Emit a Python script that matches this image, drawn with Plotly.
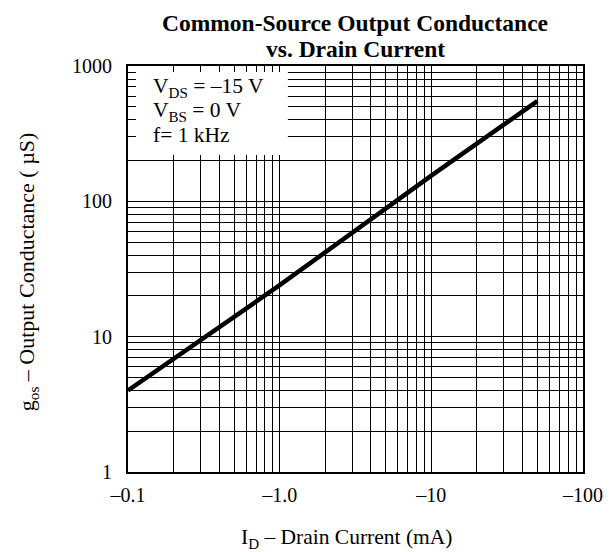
import plotly.graph_objects as go

# Data (drain current magnitude in mA, output conductance in µS)
drain_current_ma = [0.1, 1.0, 10.0, 50.0]
g_os_us = [4.0, 24.0, 155.0, 550.0]

x_major = [0.1, 1.0, 10.0, 100.0]
x_major_labels = ["\u20130.1", "\u20131.0", "\u201310", "\u2013100"]
y_major = [1, 10, 100, 1000]
y_major_labels = ["1", "10", "100", "1000"]

title_lines = ["Common-Source Output Conductance", "vs. Drain Current"]
legend_lines = ["V<sub>DS</sub> = \u201315 V", "V<sub>BS</sub> = 0 V", "f= 1 kHz"]
x_title = "I<sub>D</sub> \u2013 Drain Current (mA)"
y_title = "g<sub>os</sub> \u2013 Output Conductance ( \u00b5S)"

FONT = "Liberation Serif"


def minor_vals(majors):
    return [m * d for m in majors[:-1] for d in range(2, 10)]


# page has an 8px body margin: size the figure to fit the window
OFF = 8
W, H = 615 - OFF, 552 - OFF
L, R, T, B = 120, 26, 58, 80
pw, ph = W - L - R, H - T - B


def px(x):  # page pixel -> paper x
    return (x - OFF - L) / pw


def py(y):  # page pixel -> paper y
    return (H - B - (y - OFF)) / ph


fig = go.Figure()
fig.add_trace(go.Scatter(
    x=drain_current_ma, y=g_os_us, mode="lines",
    line=dict(color="black", width=4.5), showlegend=False,
))

axis_common = dict(
    type="log", showgrid=True, gridcolor="black", gridwidth=1.2,
    showline=True, linecolor="black", linewidth=2, mirror=True,
    ticks="", tickfont=dict(family=FONT, size=20, color="black"),
    zeroline=False, tickmode="array",
)

fig.update_layout(
    width=W, height=H,
    margin=dict(l=L, r=R, t=T, b=B),
    paper_bgcolor="white", plot_bgcolor="white",
    font=dict(family=FONT, color="black"),
    xaxis=dict(range=[-1, 2], tickvals=x_major, ticktext=x_major_labels,
               ticklabelstandoff=4,
               minor=dict(tickmode="array", tickvals=minor_vals(x_major), showgrid=True,
                          gridcolor="black", gridwidth=1.2, ticks=""),
               **axis_common),
    yaxis=dict(range=[0, 3], tickvals=y_major, ticktext=y_major_labels,
               ticklabelstandoff=10,
               minor=dict(tickmode="array", tickvals=minor_vals(y_major), showgrid=True,
                          gridcolor="black", gridwidth=1.2, ticks=""),
               **axis_common),
)

# title lines
for i, txt in enumerate(title_lines):
    fig.add_annotation(text="<b>%s</b>" % txt, xref="paper", yref="paper",
                       x=px(358), y=py(23 + 26 * i), xanchor="center", yanchor="middle",
                       showarrow=False, font=dict(family=FONT, size=23.5, color="black"))

# legend box covering the grid
fig.add_shape(type="rect", xref="paper", yref="paper",
              x0=px(136), x1=px(290), y0=py(155), y1=py(72),
              fillcolor="white", line=dict(width=0), layer="above")

for i, txt in enumerate(legend_lines):
    fig.add_annotation(text=txt, xref="paper", yref="paper",
                       x=px(151), y=py(87 + 24 * i), xanchor="left", yanchor="middle",
                       showarrow=False, font=dict(family=FONT, size=21.5, color="black"))

fig.add_annotation(text=x_title, xref="paper", yref="paper",
                   x=px(350), y=py(538), xanchor="center", yanchor="middle",
                   showarrow=False, font=dict(family=FONT, size=21.5, color="black"))
fig.add_annotation(text=y_title, xref="paper", yref="paper",
                   x=px(27), y=py(272), xanchor="center", yanchor="middle", textangle=-90,
                   showarrow=False, font=dict(family=FONT, size=22, color="black"))

fig.write_html("out.html")
